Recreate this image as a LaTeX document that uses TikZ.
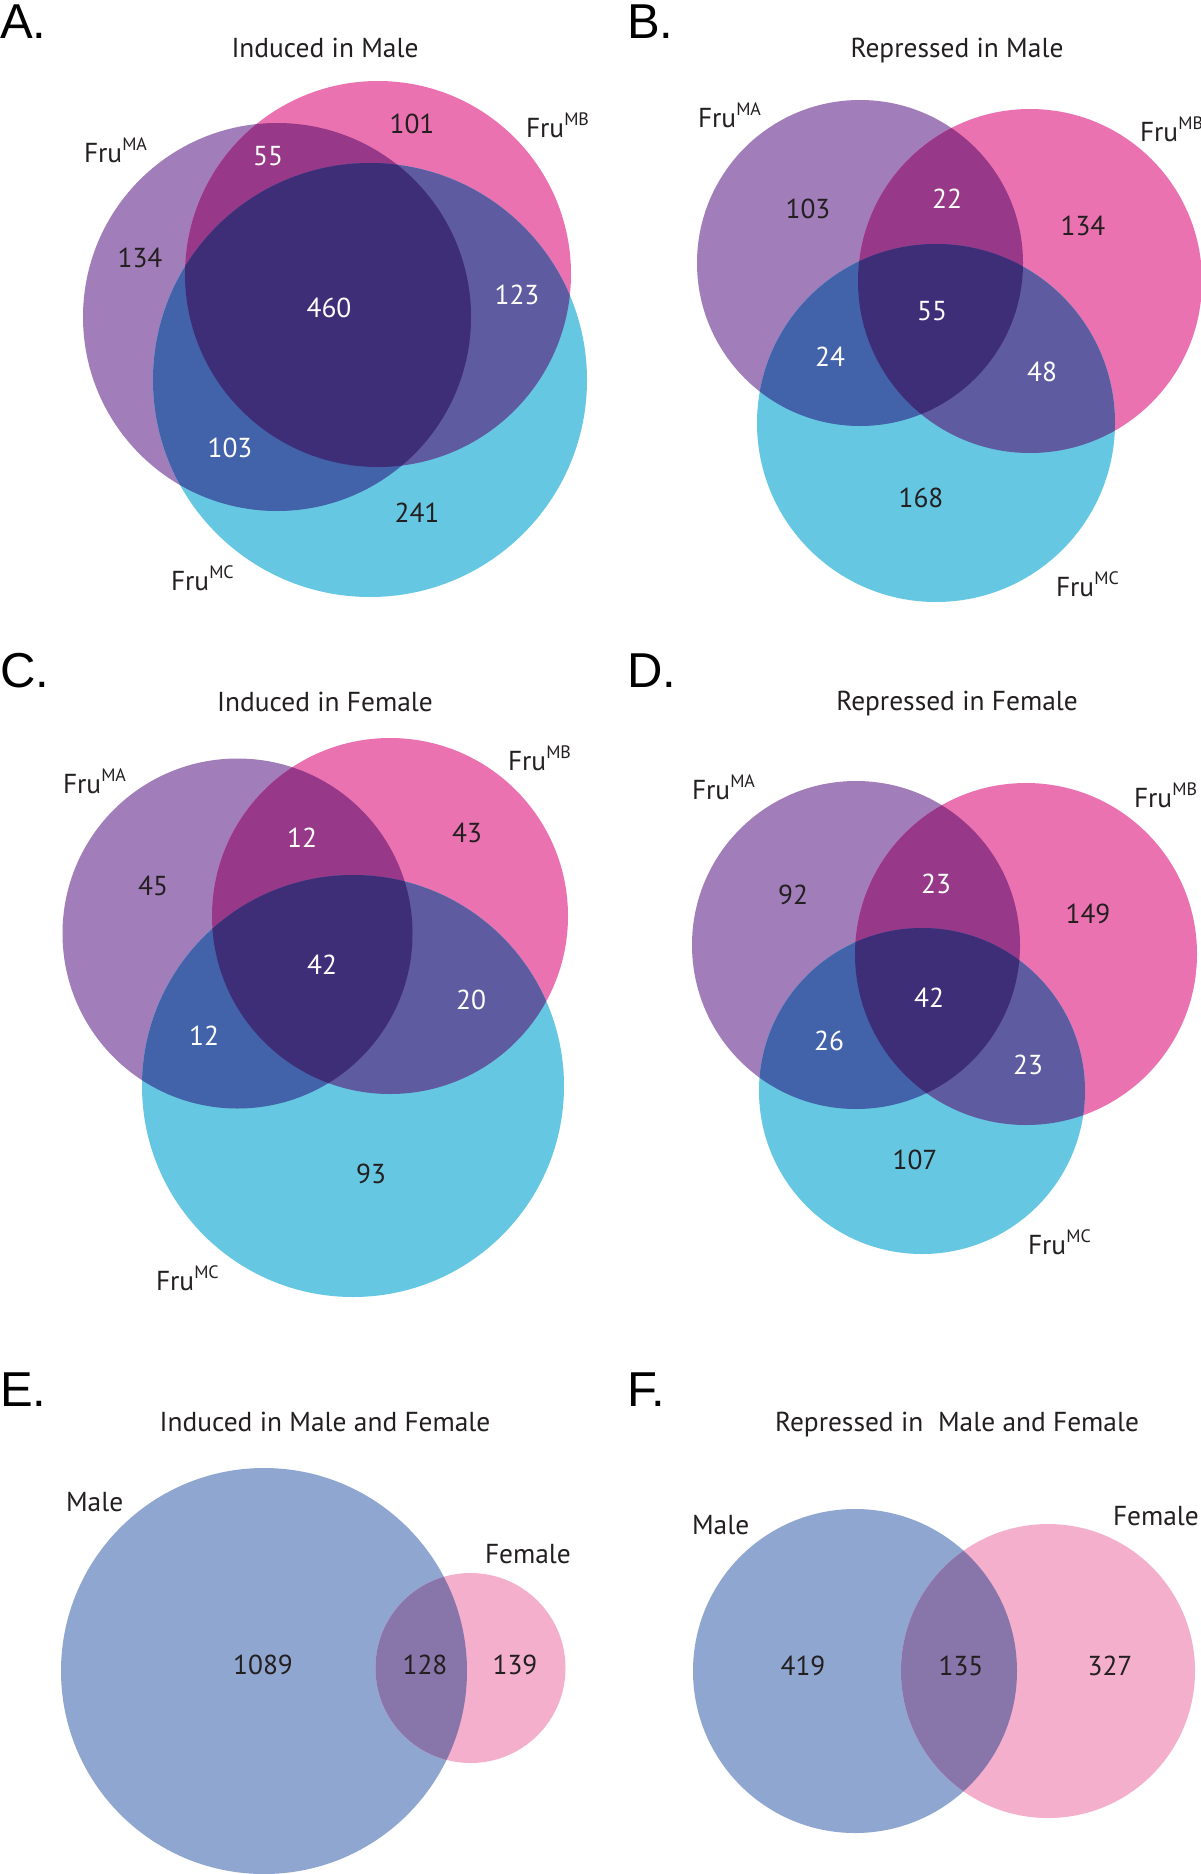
\documentclass[tikz,border=0pt]{standalone}
\usepackage{fontspec}
\setmainfont{PT Sans}
\newfontfamily\letfont{Liberation Sans}
\definecolor{cA}{HTML}{A17DBA}
\definecolor{cB}{HTML}{EB72B0}
\definecolor{cC}{HTML}{66C7E2}
\definecolor{cAB}{HTML}{983888}
\definecolor{cAC}{HTML}{4262A9}
\definecolor{cBC}{HTML}{5E5BA0}
\definecolor{cABC}{HTML}{3D2E77}
\definecolor{cMale}{HTML}{8FA6D0}
\definecolor{cFem}{HTML}{F4AFCC}
\definecolor{cMF}{HTML}{8876AA}
\definecolor{ink}{HTML}{231F20}
\newcommand{\fru}[1]{Fru\raisebox{6pt}{\fontsize{9}{9}\selectfont #1}}
\newcommand{\tripvenn}[9]{%
  \fill[cA] (#1,#2) circle (#3);
  \fill[cB] (#4,#5) circle (#6);
  \fill[cC] (#7,#8) circle (#9);
  \begin{scope}\clip (#4,#5) circle (#6); \fill[cBC] (#7,#8) circle (#9);\end{scope}
  \begin{scope}\clip (#1,#2) circle (#3); \fill[cAB] (#4,#5) circle (#6); \fill[cAC] (#7,#8) circle (#9);
    \clip (#4,#5) circle (#6); \fill[cABC] (#7,#8) circle (#9);\end{scope}
}
\begin{document}
\begin{tikzpicture}[x=0.5pt,y=-0.5pt,
  every node/.style={inner sep=0pt,outer sep=0pt,font=\fontsize{13.7}{16}\selectfont,text=ink},
  num/.style={anchor=center},
  wnum/.style={anchor=center,text=white},
  lab/.style={anchor=base west},
  ttl/.style={anchor=base},
  plet/.style={anchor=base west,font=\letfont\fontsize{24.5}{27}\selectfont,text=black}]
\useasboundingbox (0,0) rectangle (1200,1874);
\fill[white] (0,0) rectangle (1200,1874);

% ---------- Panel A ----------
\tripvenn{277}{317}{194}{378}{274}{193}{370}{380}{217}
\node[plet] (letA) at (0,38) {A.};
\node[ttl] (tA) at (325,57.5) {Induced in Male};
\node[lab] (aMA) at (84,162) {\fru{MA}};
\node[lab] (aMB) at (526,137) {\fru{MB}};
\node[lab] (aMC) at (171,590) {\fru{MC}};
\node[wnum] (a1) at (268,156) {55};
\node[num] (a2) at (412,124) {101};
\node[num] (a3) at (140,258) {134};
\node[wnum] (a4) at (329,308) {460};
\node[wnum] (a5) at (517,295) {123};
\node[wnum] (a6) at (230,448) {103};
\node[num] (a7) at (417,513) {241};

% ---------- Panel B ----------
\tripvenn{860}{263}{163}{1030}{281}{172}{936}{423}{179}
\node[plet] (letB) at (627,38) {B.};
\node[ttl] (tB) at (957,57.5) {Repressed in Male};
\node[lab] (bMA) at (698,127) {\fru{MA}};
\node[lab] (bMB) at (1140,141) {\fru{MB}};
\node[lab] (bMC) at (1056,596) {\fru{MC}};
\node[num] (b1) at (808,209) {103};
\node[wnum] (b2) at (947,199) {22};
\node[num] (b3) at (1083,226) {134};
\node[wnum] (b4) at (932,311) {55};
\node[wnum] (b5) at (830,357) {24};
\node[wnum] (b6) at (1042,372) {48};
\node[num] (b7) at (921,498) {168};

% ---------- Panel C ----------
\tripvenn{237.5}{933.5}{175}{390}{916}{178}{353}{1086}{211}
\node[plet] (letC) at (0,687) {C.};
\node[ttl] (tC) at (325,711) {Induced in Female};
\node[lab] (cMA) at (63,793) {\fru{MA}};
\node[lab] (cMB) at (508,770) {\fru{MB}};
\node[lab] (cMC) at (156,1290) {\fru{MC}};
\node[wnum] (c1) at (302,838) {12};
\node[num] (c2) at (467,833) {43};
\node[num] (c3) at (153,886) {45};
\node[wnum] (c4) at (322,965) {42};
\node[wnum] (c5) at (471,1000) {20};
\node[wnum] (c6) at (204,1036) {12};
\node[num] (c7) at (371,1174) {93};

% ---------- Panel D ----------
\tripvenn{856}{945}{164}{1026}{954}{171}{922}{1091}{163}
\node[plet] (letD) at (627,687) {D.};
\node[ttl] (tD) at (957,710) {Repressed in Female};
\node[lab] (dMA) at (692,799) {\fru{MA}};
\node[lab] (dMB) at (1134,807) {\fru{MB}};
\node[lab] (dMC) at (1028,1254) {\fru{MC}};
\node[num] (d1) at (793,895) {92};
\node[wnum] (d2) at (936,884) {23};
\node[num] (d3) at (1088,914) {149};
\node[wnum] (d4) at (929,998) {42};
\node[wnum] (d5) at (829,1041) {26};
\node[wnum] (d6) at (1028,1065) {23};
\node[num] (d7) at (915,1160) {107};

% ---------- Panel E ----------
\fill[cMale] (264,1671) circle (203);
\fill[cFem] (470.5,1668) circle (95);
\begin{scope}\clip (264,1671) circle (203); \fill[cMF] (470.5,1668) circle (95);\end{scope}
\node[plet] (letE) at (0,1406) {E.};
\node[ttl] (tE) at (325,1431) {Induced in Male and Female};
\node[lab] (eM) at (66,1511) {Male};
\node[lab] (eF) at (485,1563) {Female};
\node[num] (e1) at (263,1665) {1089};
\node[num] (e2) at (425,1665) {128};
\node[num] (e3) at (515,1665) {139};

% ---------- Panel F ----------
\fill[cMale] (855,1671) circle (162);
\fill[cFem] (1048,1671) circle (147);
\begin{scope}\clip (855,1671) circle (162); \fill[cMF] (1048,1671) circle (147);\end{scope}
\node[plet] (letF) at (627,1406) {F.};
\node[ttl] (tF) at (957,1431) {Repressed in\ \ Male and Female};
\node[lab] (fM) at (692,1534) {Male};
\node[lab] (fF) at (1113,1525) {Female};
\node[num] (f1) at (803,1666) {419};
\node[num] (f2) at (961,1666) {135};
\node[num] (f3) at (1110,1666) {327};
\end{tikzpicture}
\end{document}
